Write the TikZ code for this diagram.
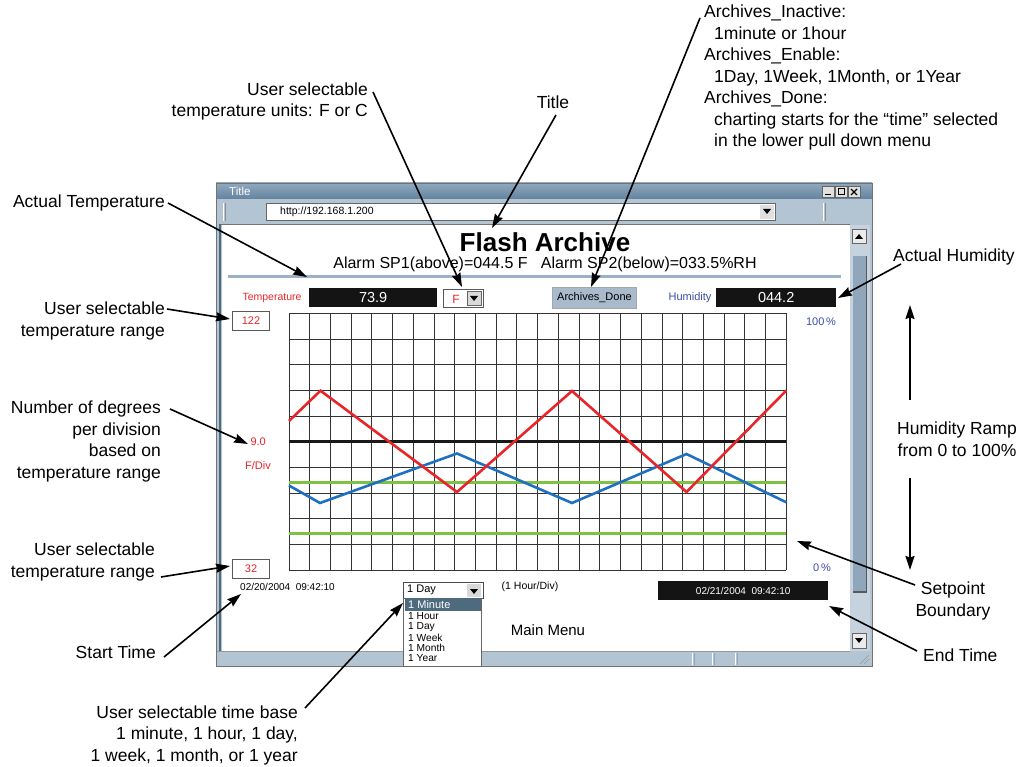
\documentclass[tikz,border=0pt]{standalone}
\usepackage{fontspec}
\setmainfont{Liberation Sans}
\usetikzlibrary{arrows.meta}
\definecolor{tbar}{HTML}{6283A0}
\definecolor{chrome}{HTML}{B3C4D3}
\definecolor{chromeD}{HTML}{8FA6BB}
\definecolor{rulec}{HTML}{9BB1C5}
\definecolor{tred}{HTML}{E8262A}
\definecolor{hblue}{HTML}{3A4DA6}
\definecolor{lblue}{HTML}{1F70C1}
\definecolor{lgreen}{HTML}{7DC242}
\definecolor{btnc}{HTML}{A8BACB}
\definecolor{selc}{HTML}{4D6A7E}
\tikzset{
  ann/.style={font=\fontsize{17.5}{21.5}\selectfont, inner sep=0pt},
  arr/.style={-{Stealth[length=14pt,width=9pt,inset=1.5pt]}, line width=1.6pt},
  small/.style={inner sep=0pt, font=\fontsize{10.5}{12}\selectfont},
  tiny/.style={inner sep=0pt, font=\fontsize{10}{11}\selectfont},
  blackbox/.style={fill=black!92, text=white, inner sep=0pt, anchor=north west, minimum height=19pt},
  rangebox/.style={draw=black!65, line width=1pt, fill=white, text=tred, inner sep=0pt, anchor=north west, minimum width=37pt, minimum height=19pt, font=\fontsize{11}{12}\selectfont},
  gridc/.style={black!80, line width=0.9pt},
  winbtn/.style={draw=black!60, fill=black!12, inner sep=0pt, minimum width=12pt, minimum height=11pt, anchor=north west},
  listitem/.style={inner sep=0pt, anchor=west, font=\fontsize{10.2}{10}\selectfont},
}
\begin{document}
\begin{tikzpicture}[x=1pt,y=-1pt]
\useasboundingbox (0,0) rectangle (1029,767);
% ---------------- window chrome ----------------
\fill[chrome] (216,183) rectangle (872,666);
\shade[top color=tbar!70, bottom color=tbar] (216,183) rectangle (872,199);
\node[anchor=west, text=white, inner sep=0pt, font=\fontsize{11.5}{12}\selectfont] (wtitle) at (229,191) {Title};
\node[winbtn] (bmin) at (822,186) {};
\node[winbtn] (bmax) at (835,186) {};
\node[winbtn] (bclose) at (848,186) {};
\draw[line width=1.5pt] (825,194.5) -- (831,194.5);
\draw[line width=1pt] (838,189) rectangle (844,195);
\draw[line width=1.4pt] (851,189) -- (857,195) (857,189) -- (851,195);
% address row
\draw[white, line width=1pt] (223,203) -- (223,221);
\draw[black!45, line width=1pt] (225,203) -- (225,221);
\draw[fill=white, draw=black!60] (266,203) rectangle (775,220);
\node[small, anchor=west, font=\fontsize{10.5}{12}\selectfont] (url) at (280,212) {http://192.168.1.200};
\fill[black!12] (760,205) rectangle (774,219);
\fill (763,209) -- (771,209) -- (767,214) -- cycle;
\draw[white, line width=1pt] (823,203) -- (823,221);
\draw[black!45, line width=1pt] (825,203) -- (825,221);
% content area
\fill[white] (222,225) rectangle (850,651);
\draw[black!55, line width=1pt] (220,224.5) -- (850,224.5);
\draw[selc, line width=2pt] (220,224) -- (220,652);
% scrollbar
\fill[chrome!75] (850,225) rectangle (870,651);
\draw[fill=black!8, draw=black!60] (852,229) rectangle (866,243);
\fill (855,239) -- (863,239) -- (859,234) -- cycle;
\fill[chromeD] (853,256) rectangle (866,592);
\draw[black!65, line width=1.2pt] (866.5,256) -- (866.5,592) -- (853,592);
\draw[fill=black!8, draw=black!60] (852,633) rectangle (866,648);
\fill (855,638) -- (863,638) -- (859,643) -- cycle;
% status bar
\fill[chrome] (216,651) rectangle (872,666);
\draw[black!40] (216,651.5) -- (850,651.5);
\foreach \xx in {692,712,735} {\draw[white] (\xx,653) -- (\xx,665); \draw[chromeD] (\xx+2,653) -- (\xx+2,665);}
\draw[black!40] (860,664) -- (869,655) (864,664) -- (869,659);
\draw[black!55] (216,183) rectangle (872,666);
% ---------------- page header ----------------
\node[inner sep=0pt, font=\bfseries\fontsize{26}{28}\selectfont] (fa) at (545,242) {Flash Archive};
\node[inner sep=0pt, font=\fontsize{16}{18}\selectfont] (alarm) at (545,264) {Alarm SP1(above)=044.5 F\ \ \ Alarm SP2(below)=033.5\%RH};
\draw[rulec, line width=3pt] (228,277) -- (841,277);
% ---------------- readout row ----------------
\node[small, text=tred] (templ) at (272,298) {Temperature};
\node[blackbox, minimum width=128pt, font=\fontsize{14.5}{16}\selectfont] (tval) at (309,288) {73.9};
\node[draw=black!65, fill=white, inner sep=0pt, anchor=north west, minimum width=40pt, minimum height=18pt] (fsel) at (443,289) {};
\node[inner sep=0pt, text=tred, font=\fontsize{12}{13}\selectfont] (funit) at (456,299) {F};
\fill[black!15] (467,291) rectangle (481,305);
\draw[black!60] (467,291) rectangle (481,305);
\fill (470,296) -- (478,296) -- (474,301) -- cycle;
\node[draw=black!35, line width=1pt, fill=btnc, inner sep=0pt, anchor=north west, minimum width=84pt, minimum height=21pt, font=\fontsize{11}{12}\selectfont] (adone) at (552,287) {Archives\_Done};
\node[small, text=hblue, font=\fontsize{11}{12}\selectfont] (huml) at (690,298) {Humidity};
\node[blackbox, minimum width=120pt, font=\fontsize{14.5}{16}\selectfont] (hval) at (716,288) {044.2};
% ---------------- axis labels ----------------
\node[rangebox] (r122) at (232,311) {122};
\node[rangebox] (r32) at (232,559) {32};
\node[small, text=tred, anchor=east, font=\fontsize{11}{12}\selectfont] (deg) at (266,442) {9.0};
\node[small, text=tred, anchor=east, font=\fontsize{11}{12}\selectfont] (fdiv) at (271,466) {F/Div};
\node[small, text=hblue, font=\fontsize{11}{12}\selectfont] (p100) at (821,322) {100\,\%};
\node[small, text=hblue, font=\fontsize{11}{12}\selectfont] (p0) at (822,568) {0\,\%};
% ---------------- chart ----------------
\foreach \i in {0,...,24} \draw[gridc] ({289+\i*20.72},313.3) -- ({289+\i*20.72},570);
\foreach \j in {0,...,10} \draw[gridc] (289,{313.3+\j*25.67}) -- (786.3,{313.3+\j*25.67});
\draw[black!90, line width=3pt] (289,441.7) -- (786.3,441.7);
\draw[lgreen, line width=3pt] (289,482) -- (786.3,482);
\draw[lgreen, line width=3pt] (289,533.5) -- (786.3,533.5);
\draw[lblue, line width=2.6pt, line join=miter] (289,485.5) -- (320,503) -- (457,453.5) -- (572,503) -- (686.5,454) -- (786.3,502.3);
\draw[tred, line width=2.6pt, line join=miter] (289,421) -- (320.5,390.7) -- (457,492) -- (572,391) -- (686.5,492) -- (786.3,390.5);
% ---------------- bottom controls ----------------
\node[tiny, anchor=west] (stt) at (240,587) {02/20/2004\ \ 09:42:10};
\node[small, font=\fontsize{10.5}{12}\selectfont] (hdiv) at (530,587) {(1 Hour/Div)};
\node[inner sep=0pt, font=\fontsize{15}{17}\selectfont] (mm) at (548,630) {Main Menu};
\node[blackbox, minimum width=170pt, font=\fontsize{10}{11}\selectfont] (etv) at (658,581) {02/21/2004\ \ 09:42:10};
\node[draw=black!70, line width=1pt, fill=white, inner sep=0pt, anchor=north west, minimum width=80pt, minimum height=16pt] (tbase) at (403,582) {};
\node[listitem, font=\fontsize{11}{12}\selectfont] (tbday) at (407,590) {1 Day};
\fill[black!15] (467,584) rectangle (481,597);
\fill (470,589) -- (478,589) -- (474,594) -- cycle;
\draw[black!60, fill=white] (403,598) rectangle (481,666);
\fill[selc] (405,598) rectangle (481,611);
\node[listitem, text=white, font=\fontsize{11}{12}\selectfont] (it0) at (408,604.5) {1 Minute};
\node[listitem] (it1) at (408,616.5) {1 Hour};
\node[listitem] (it2) at (408,627) {1 Day};
\node[listitem] (it3) at (408,637.5) {1 Week};
\node[listitem] (it4) at (408,648) {1 Month};
\node[listitem] (it5) at (408,658.5) {1 Year};
% ---------------- annotations ----------------
\node[ann, anchor=east] (aT) at (165,203) {Actual Temperature};
\node[ann, anchor=east, align=right] (aR1) at (165,321) {User selectable\\temperature range};
\node[ann, anchor=east, align=right] (aD) at (161,441.5) {Number of degrees\\per division\\based on\\temperature range};
\node[ann, anchor=east, align=right] (aR2) at (155,562) {User selectable\\temperature range};
\node[ann, anchor=east] (aS) at (156,652) {Start Time};
\node[ann, anchor=east, align=right] (aB) at (298,735) {User selectable time base\\1 minute, 1 hour, 1 day,\\1 week, 1 month, or 1 year};
\node[ann, anchor=east, align=right] (aU) at (368,101.5) {User selectable\\temperature units: F or C};
\node[ann] (aTi) at (553,102) {Title};
\node[ann, anchor=north west, align=left] (aA) at (704,5) {Archives\_Inactive:\\\hspace*{10pt}1minute or 1hour\\Archives\_Enable:\\\hspace*{10pt}1Day, 1Week, 1Month, or 1Year\\Archives\_Done:\\\hspace*{10pt}charting starts for the “time” selected\\\hspace*{10pt}in the lower pull down menu};
\node[ann, anchor=west] (aH) at (893,257) {Actual Humidity};
\node[ann, align=center] (aRamp) at (957,439) {Humidity Ramp\\from 0 to 100\%};
\node[ann, align=center] (aSB) at (953,601) {Setpoint\\Boundary};
\node[ann, anchor=west] (aE) at (923,655) {End Time};
% arrow coordinates
\coordinate (sT) at (168,203);   \coordinate (tT) at (307,277);
\coordinate (sR1) at (167,309);  \coordinate (tR1) at (230,319);
\coordinate (sD) at (170,409);   \coordinate (tD) at (248,444);
\coordinate (sR2) at (161,577);  \coordinate (tR2) at (230,566);
\coordinate (sS) at (164,657);   \coordinate (tS) at (241,594);
\coordinate (sB) at (305,708);   \coordinate (tB) at (403,603);
\coordinate (sU) at (373,92);    \coordinate (tU) at (462,287);
\coordinate (sTi) at (556,115);  \coordinate (tTi) at (492,228);
\coordinate (sA) at (700,18);    \coordinate (tA) at (591,287);
\coordinate (sH) at (901,264);   \coordinate (tH) at (838,298);
\coordinate (sRu) at (910,400);  \coordinate (tRu) at (910,305);
\coordinate (sRd) at (910,478);  \coordinate (tRd) at (910,570);
\coordinate (sSB) at (915,585);  \coordinate (tSB) at (797,541);
\coordinate (sE) at (917,651);   \coordinate (tE) at (829,606);
\draw[arr] (sT) -- (tT);
\draw[arr] (sR1) -- (tR1);
\draw[arr] (sD) -- (tD);
\draw[arr] (sR2) -- (tR2);
\draw[arr] (sS) -- (tS);
\draw[arr] (sB) -- (tB);
\draw[arr] (sU) -- (tU);
\draw[arr] (sTi) -- (tTi);
\draw[arr] (sA) -- (tA);
\draw[arr] (sH) -- (tH);
\draw[arr] (sRu) -- (tRu);
\draw[arr] (sRd) -- (tRd);
\draw[arr] (sSB) -- (tSB);
\draw[arr] (sE) -- (tE);
\end{tikzpicture}
\end{document}
